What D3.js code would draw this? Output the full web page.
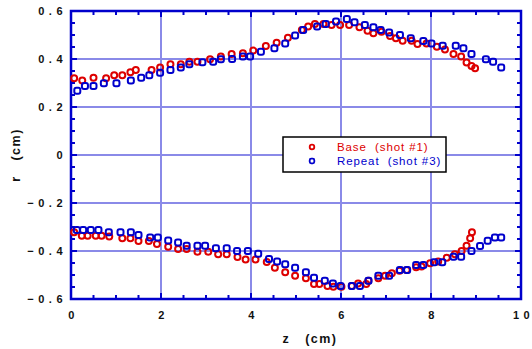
<!DOCTYPE html>
<html><head><meta charset="utf-8">
<script src="https://cdn.jsdelivr.net/npm/d3@7"></script>
<style>body{margin:0;background:#fff;} svg{display:block;}</style>
</head><body>
<script>
// ---- data ----
const baseTopZ = [0.07,0.25,0.50,0.78,0.96,1.14,1.32,1.44,1.79,1.98,2.21,2.44,2.63,2.81,3.09,3.33,3.57,3.82,4.05,4.33,4.57,4.82,5.13,5.27,5.42,5.61,5.79,5.98,6.18,6.41,6.59,6.72,6.90,7.09,7.22,7.37,7.57,7.70,7.90,8.13,8.31,8.50,8.67,8.79,8.90,8.98];
const baseTopR = [0.320,0.310,0.322,0.320,0.332,0.332,0.345,0.354,0.354,0.365,0.378,0.378,0.389,0.389,0.399,0.410,0.421,0.424,0.435,0.454,0.468,0.489,0.521,0.535,0.546,0.546,0.542,0.542,0.542,0.532,0.518,0.507,0.514,0.496,0.486,0.476,0.476,0.463,0.465,0.451,0.440,0.421,0.410,0.385,0.371,0.361];
const baseBotZ = [0.07,0.24,0.37,0.55,0.68,0.85,1.14,1.32,1.50,1.73,1.91,2.16,2.38,2.57,2.81,3.05,3.27,3.46,3.70,3.88,4.10,4.35,4.53,4.76,4.98,5.22,5.40,5.52,5.70,5.83,6.01,6.24,6.38,6.56,6.61,6.83,6.98,7.13,7.30,7.46,7.67,7.79,7.98,8.16,8.35,8.53,8.68,8.79,8.87,8.91];
const baseBotR = [-0.322,-0.336,-0.336,-0.336,-0.336,-0.340,-0.347,-0.347,-0.358,-0.358,-0.371,-0.382,-0.392,-0.392,-0.403,-0.403,-0.414,-0.414,-0.425,-0.435,-0.435,-0.446,-0.470,-0.489,-0.503,-0.514,-0.537,-0.537,-0.546,-0.549,-0.549,-0.546,-0.535,-0.537,-0.524,-0.514,-0.503,-0.493,-0.482,-0.479,-0.468,-0.465,-0.451,-0.444,-0.428,-0.414,-0.400,-0.378,-0.347,-0.322];
const repTopZ = [0.14,0.31,0.50,0.73,1.01,1.33,1.56,1.74,1.98,2.21,2.44,2.63,2.92,3.16,3.33,3.58,3.82,3.98,4.22,4.52,4.76,4.98,5.16,5.47,5.66,5.89,6.13,6.30,6.53,6.72,6.88,7.07,7.31,7.55,7.83,8.01,8.26,8.55,8.72,8.90,9.22,9.38,9.56];
const repTopR = [0.268,0.288,0.288,0.299,0.299,0.310,0.322,0.332,0.343,0.354,0.365,0.378,0.386,0.389,0.399,0.400,0.410,0.410,0.430,0.445,0.465,0.498,0.521,0.535,0.546,0.556,0.567,0.553,0.542,0.532,0.521,0.510,0.500,0.486,0.475,0.465,0.455,0.455,0.445,0.421,0.399,0.389,0.365];
const repBotZ = [0.13,0.27,0.44,0.61,0.84,1.10,1.33,1.50,1.76,1.93,2.16,2.38,2.57,2.81,2.98,3.22,3.46,3.69,3.93,4.16,4.40,4.58,4.76,4.98,5.22,5.40,5.64,5.82,5.99,6.24,6.42,6.61,6.83,7.07,7.31,7.47,7.67,7.83,8.07,8.25,8.50,8.67,8.90,9.09,9.26,9.42,9.56];
const repBotR = [-0.312,-0.312,-0.312,-0.312,-0.322,-0.322,-0.322,-0.333,-0.344,-0.344,-0.356,-0.365,-0.378,-0.378,-0.378,-0.389,-0.389,-0.400,-0.400,-0.411,-0.433,-0.444,-0.455,-0.470,-0.489,-0.511,-0.524,-0.535,-0.546,-0.546,-0.546,-0.524,-0.503,-0.503,-0.479,-0.479,-0.458,-0.458,-0.447,-0.447,-0.424,-0.424,-0.400,-0.379,-0.357,-0.344,-0.344];
const xTicks = [0,2,4,6,8,10];
const yTicks = [-0.6,-0.4,-0.2,0,0.2,0.4,0.6];
const seriesNames = ["Base  (shot #1)", "Repeat  (shot #3)"];

const W = 532, H = 349;
const m = {l:71, r:11, t:11, b:50};
const red = "#dd0000", blue = "#0000cc", gridC = "#8a8ae8";

const svg = d3.select("body").append("svg").attr("width", W).attr("height", H);
const x = d3.scaleLinear().domain([0,10]).range([m.l, W - m.r]);
const y = d3.scaleLinear().domain([-0.6,0.6]).range([H - m.b, m.t]);

// grid
const g = svg.append("g");
g.selectAll(".gx").data(xTicks.filter(d => d>0 && d<10)).enter().append("line")
  .attr("x1", d=>x(d)).attr("x2", d=>x(d)).attr("y1", y(-0.6)).attr("y2", y(0.6))
  .attr("stroke", gridC).attr("stroke-width", 2);
g.selectAll(".gy").data(yTicks.filter(d => d>-0.6 && d<0.6)).enter().append("line")
  .attr("y1", d=>y(d)).attr("y2", d=>y(d)).attr("x1", x(0)).attr("x2", x(10))
  .attr("stroke", gridC).attr("stroke-width", 2);

// minor ticks on all sides
const xMinor = d3.range(0, 10.001, 0.5);
const yMinor = d3.range(-0.6, 0.6001, 0.05);
const tk = svg.append("g").attr("stroke", blue).attr("stroke-width", 2);
xMinor.forEach(v => {
  const L = (Math.abs(v/2 - Math.round(v/2)) < 1e-6) ? 6 : 4;
  tk.append("line").attr("x1", x(v)).attr("x2", x(v)).attr("y1", y(-0.6)).attr("y2", y(-0.6)-L);
  tk.append("line").attr("x1", x(v)).attr("x2", x(v)).attr("y1", y(0.6)).attr("y2", y(0.6)+L);
});
yMinor.forEach(v => {
  const L = (Math.abs(v/0.2 - Math.round(v/0.2)) < 1e-6) ? 6 : 4;
  tk.append("line").attr("y1", y(v)).attr("y2", y(v)).attr("x1", x(0)).attr("x2", x(0)+L);
  tk.append("line").attr("y1", y(v)).attr("y2", y(v)).attr("x1", x(10)).attr("x2", x(10)-L);
});

// frame
svg.append("rect").attr("x", x(0)).attr("y", y(0.6)).attr("width", x(10)-x(0)).attr("height", y(-0.6)-y(0.6))
  .attr("fill", "none").attr("stroke", blue).attr("stroke-width", 2.5);

// axes labels via d3 axis (text only)
const xAxis = d3.axisBottom(x).tickValues(xTicks).tickSize(0).tickPadding(0).tickFormat(d3.format("d"));
const xa = svg.append("g").attr("transform", `translate(0,${y(-0.6)+12})`).call(xAxis);
xa.select(".domain").remove();
xa.selectAll("text").attr("font-family", "Liberation Sans, Arial, sans-serif").attr("font-weight", "bold")
  .attr("font-size", 11).attr("fill", "#111").attr("letter-spacing", 4.5).attr("dx", 2);

const yAxis = d3.axisLeft(y).tickValues(yTicks).tickSize(0).tickPadding(0).tickFormat(d => d===0 ? "0" : d3.format(".1f")(d));
const ya = svg.append("g").attr("transform", `translate(${x(0)-4},0)`).call(yAxis);
ya.select(".domain").remove();
ya.selectAll("text").attr("font-family", "Liberation Sans, Arial, sans-serif").attr("font-weight", "bold")
  .attr("font-size", 11).attr("fill", "#111").attr("letter-spacing", 4.5);

// axis titles
svg.append("text").attr("x", 310).attr("y", 343).attr("text-anchor", "middle")
  .attr("font-family", "Liberation Sans, Arial, sans-serif").attr("font-weight", "bold").attr("font-size", 12.5)
  .attr("letter-spacing", 1.5).style("white-space", "pre").attr("fill", "#111").text("z   (cm)");
svg.append("text").attr("transform", `translate(20,155) rotate(-90)`).attr("text-anchor", "middle")
  .attr("font-family", "Liberation Sans, Arial, sans-serif").attr("font-weight", "bold").attr("font-size", 12.5)
  .attr("letter-spacing", 1.5).style("white-space", "pre").attr("fill", "#111").text("r   (cm)");

// markers
function circles(zs, rs) {
  svg.append("g").selectAll("circle").data(zs.map((z,i)=>[z, rs[i]])).enter().append("circle")
    .attr("cx", d=>x(d[0])).attr("cy", d=>y(d[1])).attr("r", 3)
    .attr("fill", "none").attr("stroke", red).attr("stroke-width", 2);
}
function squares(zs, rs) {
  svg.append("g").selectAll("rect").data(zs.map((z,i)=>[z, rs[i]])).enter().append("rect")
    .attr("x", d=>x(d[0])-3).attr("y", d=>y(d[1])-3).attr("width", 6).attr("height", 6).attr("rx", 2)
    .attr("fill", "none").attr("stroke", blue).attr("stroke-width", 2);
}
circles(baseTopZ, baseTopR);
circles(baseBotZ, baseBotR);
squares(repTopZ, repTopR);
squares(repBotZ, repBotR);

// legend
const lg = svg.append("g");
lg.append("rect").attr("x", 283).attr("y", 137).attr("width", 163).attr("height", 35)
  .attr("fill", "#fff").attr("stroke", "#000").attr("stroke-width", 1.5);
lg.append("circle").attr("cx", 312).attr("cy", 147).attr("r", 2.3).attr("fill", "none").attr("stroke", red).attr("stroke-width", 1.8);
lg.append("rect").attr("x", 309.7).attr("y", 158.7).attr("width", 4.6).attr("height", 4.6).attr("rx", 1.5)
  .attr("fill", "none").attr("stroke", blue).attr("stroke-width", 1.8);
[red, blue].forEach((c, i) => {
  lg.append("text").attr("x", 337).attr("y", 151 + i*14).attr("fill", c)
    .attr("font-family", "Liberation Sans, Arial, sans-serif").attr("font-size", 11.5)
    .attr("letter-spacing", 0.9).style("white-space", "pre").text(seriesNames[i]);
});
</script>
</body></html>
